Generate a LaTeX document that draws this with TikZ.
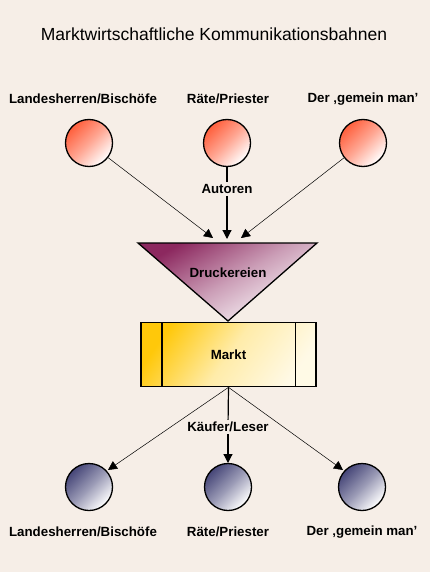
\documentclass[tikz,border=0pt]{standalone}
\usepackage{fontspec}
\setmainfont{Liberation Sans}
\usetikzlibrary{positioning}
\usetikzlibrary{arrows.meta}
\pgfdeclarelayer{bglayer}
\pgfdeclarelayer{nodelayer}
\pgfdeclarelayer{edgelayer}
\pgfsetlayers{bglayer,nodelayer,edgelayer,main}
\definecolor{bgcol}{RGB}{246,238,231}
\definecolor{redcol}{RGB}{255,95,60}
\definecolor{bluecol}{RGB}{70,70,120}
\definecolor{purplecol}{RGB}{140,40,95}
\definecolor{goldcol}{RGB}{255,200,10}
\tikzset{
  lbl/.style={font=\bfseries\fontsize{13.3}{15}\selectfont},
  srcnode/.style={circle, draw, line width=1.3pt, minimum size=47pt, inner sep=0pt,
    top color=redcol, bottom color=white, middle color=redcol!55!white, shading angle=45},
  dstnode/.style={circle, draw, line width=1.3pt, minimum size=47pt, inner sep=0pt,
    top color=bluecol, bottom color=white, middle color=bluecol!55!white, shading angle=45},
  thin edge/.style={line width=0.5pt, -{Triangle[length=9pt,width=9pt]}},
  thick edge/.style={line width=1.2pt, -{Triangle[length=9pt,width=9pt]}},
}

\begin{document}
\begin{tikzpicture}[x=1pt, y=-1pt]
  \begin{pgfonlayer}{bglayer}
    \fill [bgcol] (0, 0) rectangle (430, 572);
  \end{pgfonlayer}
  \useasboundingbox (0, 0) rectangle (430, 572);
  \begin{pgfonlayer}{nodelayer}
    \node [font=\fontsize{17.5}{20}\selectfont] (t) at (214, 34) {Marktwirtschaftliche Kommunikationsbahnen};
    \node [srcnode] (0) at (89, 143) {};
    \node [srcnode] (1) at (227, 143) {};
    \node [srcnode] (2) at (363, 143) {};
    \node [lbl] (3) at (83, 99) {Landesherren/Bischöfe};
    \node [lbl] (4) at (228, 99) {Räte/Priester};
    \node [lbl] (5) at (363, 99) {Der ‚gemein man’};
    \node [lbl, inner sep=2pt] (6) at (227, 189) {Autoren};
    \coordinate (a) at (213, 238);
    \coordinate (b) at (227, 239);
    \coordinate (c) at (241, 238);
    \draw [line width=1.3pt, top color=purplecol, bottom color=white, middle color=purplecol!45!white, shading angle=30]
      (138, 243) -- (317, 243) -- (228, 321) -- cycle;
    \node [lbl] (7) at (228, 273) {Druckereien};
    \node [draw, line width=1.3pt, minimum width=175pt, minimum height=64pt, inner sep=0pt,
      top color=goldcol, bottom color=white!90!goldcol, middle color=goldcol!35!white, shading angle=55, lbl] (8) at (228.5, 354.7) {Markt};
    \draw [line width=1.3pt] ([xshift=21.6pt]8.north west) -- ([xshift=21.6pt]8.south west);
    \draw [line width=1.3pt] ([xshift=-21pt]8.north east) -- ([xshift=-21pt]8.south east);
    \node [lbl, inner sep=2pt] (9) at (228, 427) {Käufer/Leser};
    \coordinate (d) at (108, 470);
    \coordinate (e) at (228, 463);
    \coordinate (f) at (343, 470);
    \node [dstnode] (10) at (89, 487) {};
    \node [dstnode] (11) at (228, 487) {};
    \node [dstnode] (12) at (362, 487) {};
    \node [lbl] (13) at (83, 532) {Landesherren/Bischöfe};
    \node [lbl] (14) at (228, 532) {Räte/Priester};
    \node [lbl] (15) at (362, 532) {Der ‚gemein man’};
  \end{pgfonlayer}
  \begin{pgfonlayer}{edgelayer}
    \draw [thin edge] (0) to (a);
    \draw [line width=1.2pt] (1) to (6);
    \draw [thick edge] (6) to (b);
    \draw [thin edge] (2) to (c);
    \draw [thin edge] (8.south) to (d);
    \draw [line width=1.2pt] (8.south) to (9);
    \draw [thick edge] (9) to (e);
    \draw [thin edge] (8.south) to (f);
  \end{pgfonlayer}
\end{tikzpicture}
\end{document}
